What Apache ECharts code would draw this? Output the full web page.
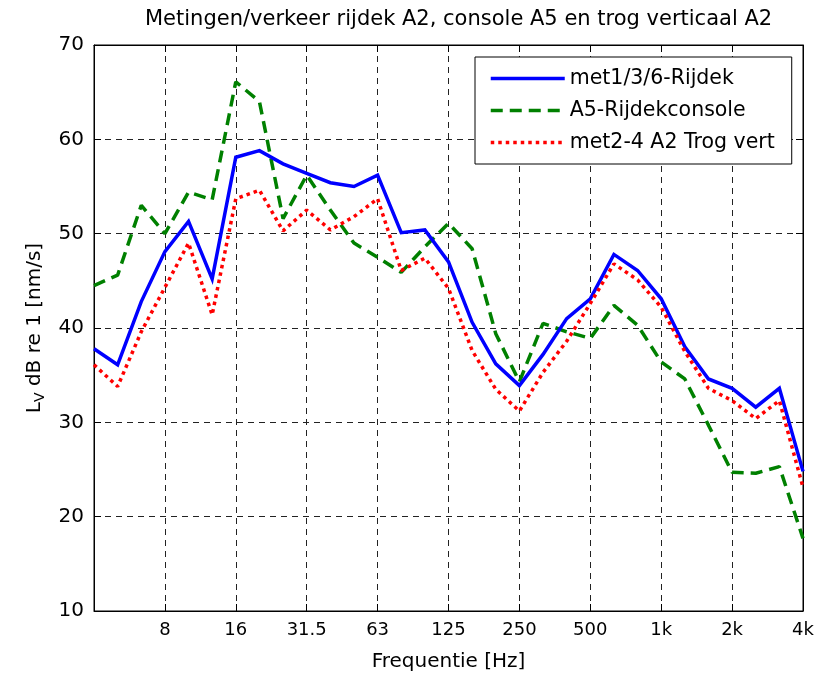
<!DOCTYPE html>
<html><head><meta charset="utf-8">
<script src="https://cdn.jsdelivr.net/npm/echarts@6/dist/echarts.min.js"></script>
<style>html,body{margin:0;padding:0;background:#fff}#c{width:821px;height:679px}</style>
</head><body><div id="c"></div>
<script>
const titleText = 'Metingen/verkeer rijdek A2, console A5 en trog verticaal A2';
const bands = ['4','5','6.3','8','10','12.5','16','20','25','31.5','40','50','63','80','100','125','160','200','250','315','400','500','630','800','1k','1.25k','1.6k','2k','2.5k','3.15k','4k'];
const tickLabels = ['8','16','31.5','63','125','250','500','1k','2k','4k'];
const yTicks = [10,20,30,40,50,60,70];
const seriesNames = ['met1/3/6-Rijdek','A5-Rijdekconsole','met2-4 A2 Trog vert'];
const rijdek = [37.8,36.1,42.8,48.1,51.3,45.2,58.1,58.8,57.4,56.4,55.4,55.0,56.2,50.1,50.4,47.0,40.6,36.2,33.9,37.2,41.0,43.1,47.8,46.1,43.1,38.0,34.6,33.6,31.6,33.6,24.8];
const console5 = [44.5,45.6,53.0,50.0,54.4,53.6,66.1,64.0,51.6,56.2,52.5,49.0,47.5,45.9,48.6,51.1,48.4,39.4,34.3,40.5,39.6,38.9,42.4,40.3,36.4,34.6,29.7,24.7,24.6,25.3,17.7];
const trog = [36.1,33.8,39.6,44.3,49.0,41.4,53.7,54.6,50.3,52.5,50.4,51.8,53.7,46.1,47.4,44.2,37.6,33.5,31.2,35.3,38.6,42.6,46.8,45.1,42.2,37.5,33.6,32.3,30.4,32.3,23.1];

const FONT = 'DejaVu Sans';
const isTick = (i) => tickLabels.indexOf(bands[i]) >= 0;
const chart = echarts.init(document.getElementById('c'), null, {renderer:'canvas'});
const gridDash = {color:'#222', width:1, type:[6,5]};
chart.setOption({
  animation:false,
  backgroundColor:'#fff',
  textStyle:{fontFamily:FONT, color:'#000'},
  title:{text:titleText, left:140, top:4, textStyle:{fontFamily:FONT, fontSize:21, fontWeight:'normal', color:'#000'}},
  grid:{left:94, right:18, top:45, bottom:68, show:true, borderColor:'#000', borderWidth:1, backgroundColor:'#fff'},
  legend:{
    data:seriesNames, orient:'vertical', left:475, top:57,
    padding:[11,17,11,14], itemWidth:74, itemHeight:20, itemGap:11,
    borderColor:'#000', borderWidth:1, backgroundColor:'#fff',
    itemStyle:{opacity:0},
    lineStyle:{width:3.5},
    textStyle:{fontFamily:FONT, fontSize:20.5, color:'#000'}
  },
  xAxis:[{
    type:'category', data:bands, boundaryGap:false, position:'bottom',
    axisLine:{show:true, lineStyle:{color:'#000', width:1}},
    axisTick:{show:true, inside:true, length:7, interval:(i)=>isTick(i), lineStyle:{color:'#000'}},
    axisLabel:{interval:(i)=>isTick(i), margin:10, fontFamily:FONT, fontSize:18, color:'#000'},
    splitLine:{show:true, interval:(i)=>isTick(i), lineStyle:gridDash},
    name:'Frequentie [Hz]', nameLocation:'middle', nameGap:41,
    nameTextStyle:{fontFamily:FONT, fontSize:20, color:'#000'}
  },{
    type:'category', data:bands, boundaryGap:false, position:'top',
    axisLine:{show:true, lineStyle:{color:'#000', width:1}},
    axisTick:{show:true, inside:true, length:7, interval:(i)=>isTick(i), lineStyle:{color:'#000'}},
    axisLabel:{show:false}, splitLine:{show:false}
  }],
  yAxis:[{
    type:'value', min:10, max:70, interval:10, position:'left',
    axisLine:{show:true, lineStyle:{color:'#000', width:1}},
    axisTick:{show:true, inside:true, length:7, lineStyle:{color:'#000'}},
    axisLabel:{margin:10, fontFamily:FONT, fontSize:20, color:'#000'},
    splitLine:{show:true, lineStyle:gridDash},
    name:'{a|L}{b|V}{a| dB re 1 [nm/s]}', nameLocation:'middle', nameGap:44,
    nameTextStyle:{fontFamily:FONT, color:'#000',
      rich:{a:{fontFamily:FONT, fontSize:20, verticalAlign:'top', color:'#000'},
            b:{fontFamily:FONT, fontSize:14, verticalAlign:'top', padding:[9,0,0,0], color:'#000'}}}
  },{
    type:'value', min:10, max:70, interval:10, position:'right',
    axisLine:{show:true, lineStyle:{color:'#000', width:1}},
    axisTick:{show:true, inside:true, length:7, lineStyle:{color:'#000'}},
    axisLabel:{show:false}, splitLine:{show:false}
  }],
  series:[
    {name:seriesNames[0], type:'line', data:rijdek, symbol:'none', z:3,
     lineStyle:{color:'#0000ff', width:3.5, type:'solid', join:'miter'}, itemStyle:{color:'#0000ff'}},
    {name:seriesNames[1], type:'line', data:console5, symbol:'none', z:2,
     lineStyle:{color:'#008000', width:3.5, type:[12,7], cap:'butt'}, itemStyle:{color:'#008000'}},
    {name:seriesNames[2], type:'line', data:trog, symbol:'none', z:4,
     lineStyle:{color:'#ff0000', width:3.5, type:[3.5,4], cap:'butt'}, itemStyle:{color:'#ff0000'}}
  ]
});
</script></body></html>
